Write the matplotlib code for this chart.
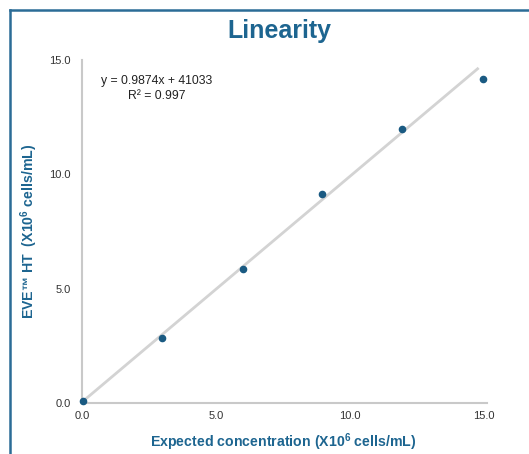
import matplotlib
matplotlib.use("Agg")
import matplotlib.pyplot as plt
from matplotlib.lines import Line2D

plt.rcParams['font.family'] = ['Liberation Sans', 'DejaVu Sans']
plt.rcParams['mathtext.fontset'] = 'custom'
plt.rcParams['mathtext.bf'] = 'Liberation Sans:bold'
plt.rcParams['mathtext.rm'] = 'Liberation Sans'

# data (x10^6 cells/mL)
expected = [0.05, 3.0, 6.0, 8.95, 11.95, 14.95]
measured = [0.1, 2.85, 5.85, 9.15, 12.0, 14.15]
slope = 0.9874
intercept = 0.041033
ticks = [0, 5, 10, 15]
tick_labels = ["0.0", "5.0", "10.0", "15.0"]

blue = "#1d6590"
dot = "#1a5a82"
grey = "#c9c9c9"

fig = plt.figure(figsize=(5.29, 4.54), dpi=100)
W, H = 529, 454
ax = fig.add_axes([82 / W, 1 - 403 / H, 402 / W, 343 / H])

# trend line
x0, x1 = 0, 14.8
ax.plot([x0, x1], [slope * x0 + intercept, slope * x1 + intercept],
        color="#d3d3d3", lw=2, zorder=1, solid_capstyle="butt")
ax.scatter(expected, measured, s=20, color=dot, zorder=3, clip_on=False)

ax.set_xlim(0, 15)
ax.set_ylim(0, 15)
ax.set_xticks(ticks)
ax.set_xticklabels(tick_labels)
ax.set_yticks(ticks)
ax.set_yticklabels(tick_labels)
ax.tick_params(length=0, labelsize=8, colors="#333333", pad=6)
ax.tick_params(axis="y", pad=8)
for s in ["top", "right"]:
    ax.spines[s].set_visible(False)
for s in ["left", "bottom"]:
    ax.spines[s].set_color(grey)
    ax.spines[s].set_linewidth(1.5)
ax.spines["bottom"].set_bounds(0, 15.1)

ax.text(0.185, 0.955, "y = 0.9874x + 41033\nR² = 0.997", transform=ax.transAxes,
        ha="center", va="top", fontsize=8.8, color="#222222", linespacing=1.3)

fig.text(279 / W, 1 - 31 / H, "Linearity", ha="center", va="center",
         fontsize=18, fontweight="bold", color=blue)
ax.set_xlabel("Expected concentration (X10$^{\\mathbf{6}}$ cells/mL)", fontsize=10.2,
              fontweight="bold", color=blue)
ax.xaxis.set_label_coords(0.5, -28 / 343)
ax.set_ylabel("EVE™ HT  (X10$^{\\mathbf{6}}$ cells/mL)", fontsize=10.2,
              fontweight="bold", color=blue)
ax.yaxis.set_label_coords(-42 / 402, 0.5)

# frame lines
fig.add_artist(Line2D([10 / W, 10 / W], [0, 1 - 10 / H], color="#2b6c96", lw=1.8,
                      transform=fig.transFigure))
fig.add_artist(Line2D([10 / W, 1], [1 - 10 / H, 1 - 10 / H], color="#2b6c96", lw=1.8,
                      transform=fig.transFigure))

fig.savefig("out.png", dpi=100)
